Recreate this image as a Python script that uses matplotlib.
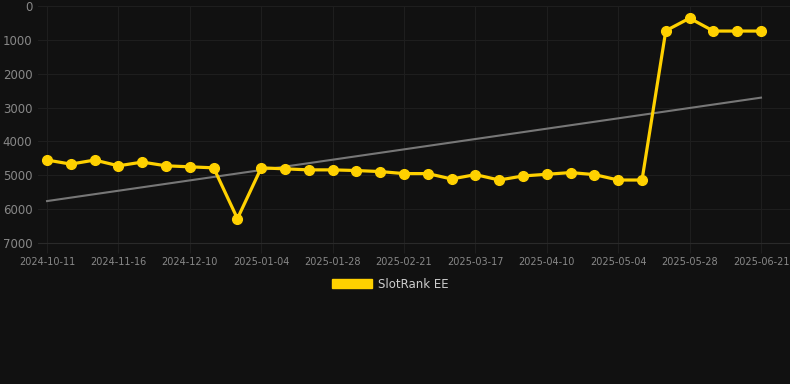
import numpy as np
import matplotlib.pyplot as plt
from matplotlib.patches import Patch

dates = [
    "2024-10-11", "2024-10-23", "2024-11-04", "2024-11-16", "2024-11-24", "2024-12-02",
    "2024-12-10", "2024-12-18", "2024-12-27", "2025-01-04", "2025-01-12", "2025-01-20",
    "2025-01-28", "2025-02-05", "2025-02-13", "2025-02-21", "2025-03-01", "2025-03-09",
    "2025-03-17", "2025-03-25", "2025-04-02", "2025-04-10", "2025-04-18", "2025-04-26",
    "2025-05-04", "2025-05-12", "2025-05-20", "2025-05-28", "2025-06-05", "2025-06-13",
    "2025-06-21",
]
rank = [
    4550, 4670, 4550, 4720, 4610, 4720, 4750, 4780, 6280, 4780,
    4810, 4840, 4840, 4860, 4890, 4950, 4950, 5110, 4980, 5140,
    5020, 4970, 4920, 4980, 5140, 5140, 730, 360, 740, 740,
    740,
]
y_ticks = [0, 1000, 2000, 3000, 4000, 5000, 6000, 7000]

bg = "#111111"
gold = "#FFD100"
grid = "#1e1e1e"

fig = plt.figure(figsize=(7.9, 3.84), dpi=100, facecolor=bg)
ax = fig.add_axes([38 / 790, 1 - 243 / 384, (790 - 38) / 790, (243 - 6) / 384])
ax.set_facecolor(bg)

x = np.arange(len(dates))
# linear trend over the ranks
slope, intercept = np.polyfit(x, rank, 1)
ax.plot(x, slope * x + intercept, color="#777777", linewidth=1.5, zorder=2)
ax.plot(x, rank, color=gold, linewidth=2.3, marker="o", markersize=7, zorder=3)

ax.set_xlim(-0.38, 30 + 29 / 23.8)
ax.set_ylim(7000, 0)
ax.set_yticks(y_ticks)
ax.set_xticks(x[::3])
ax.set_xticklabels(dates[::3])

ax.grid(True, color=grid, linewidth=0.8)
for s in ax.spines.values():
    s.set_visible(False)
ax.spines["bottom"].set_visible(True)
ax.spines["bottom"].set_color("#2a2a2a")
ax.tick_params(axis="y", colors="#888888", labelsize=8.5, length=0, pad=4)
ax.tick_params(axis="x", colors=grid, labelcolor="#888888", labelsize=7, length=7, pad=3)

fig.legend(handles=[Patch(facecolor=gold, edgecolor=gold)], labels=["SlotRank EE"],
           loc="center", bbox_to_anchor=(0.494, 1 - 284 / 384), frameon=False,
           handlelength=3.4, handleheight=0.9, handletextpad=0.5,
           prop={"size": 8.5}, labelcolor="#cccccc")

fig.savefig("out.png", facecolor=bg)
